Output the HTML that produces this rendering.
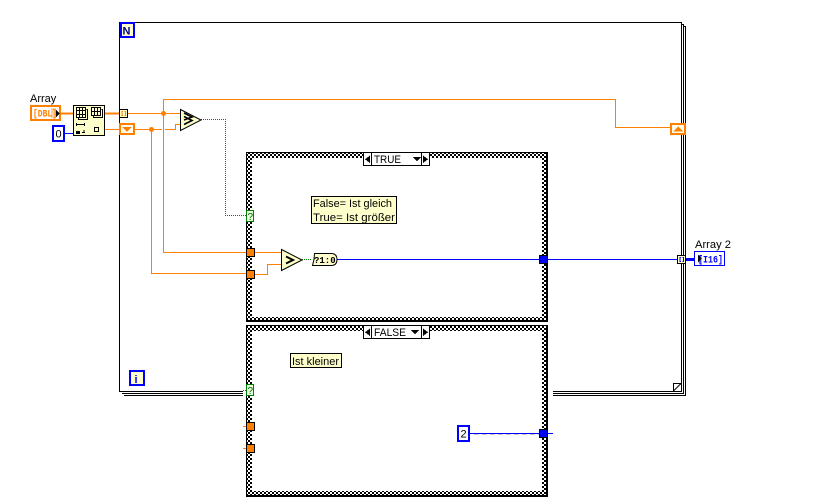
<!DOCTYPE html>
<html><head><meta charset="utf-8"><style>
html,body{margin:0;padding:0;background:#fff;width:817px;height:503px;overflow:hidden}
svg{display:block}
text{font-family:"Liberation Sans",sans-serif;font-size:11px;fill:#000}
.m{font-family:"Liberation Mono",monospace;font-weight:bold}
</style></head><body>
<svg width="817" height="503" viewBox="0 0 817 503" xmlns="http://www.w3.org/2000/svg" shape-rendering="crispEdges">
<defs>
<pattern id="c" width="4" height="4" patternUnits="userSpaceOnUse">
<rect width="4" height="4" fill="#fff"/><rect width="2" height="2" fill="#000"/><rect x="2" y="2" width="2" height="2" fill="#000"/>
</pattern>
</defs>
<!-- loop frames -->
<path d="M122 393.5H683.5V24.5H681" fill="none" stroke="#000"/>
<path d="M124 395.5H685.5V26.5H683" fill="none" stroke="#000"/>
<rect x="119.5" y="22.5" width="562" height="369" fill="#fff" stroke="#000"/>
<path d="M673.5 391V383.5H681M673.5 391L681 383.5" fill="#fff" stroke="#000" shape-rendering="auto"/>
<!-- white halo -->
<rect x="243" y="386" width="310" height="12" fill="#fff"/>
<!-- N / i -->
<rect x="121" y="23" width="13" height="14" fill="#ffffcc" stroke="#00f" stroke-width="2"/>
<text x="122.5" y="34.5" style="font-weight:bold;fill:#00008c">N</text>
<rect x="130" y="371" width="14" height="14" fill="#ffffcc" stroke="#00f" stroke-width="2"/>
<text x="134.5" y="383" style="font-weight:bold;fill:#00f">i</text>
<!-- case 1 -->
<rect x="246" y="152" width="302" height="170" fill="#000"/>
<rect x="247" y="153" width="299" height="167" fill="url(#c)"/>
<rect x="252" y="158" width="290" height="159" fill="#fff"/>
<!-- case 2 -->
<rect x="246" y="325" width="302" height="172" fill="#000"/>
<rect x="247" y="326" width="299" height="169" fill="url(#c)"/>
<rect x="252" y="331" width="290" height="160" fill="#fff"/>
<!-- orange wires -->
<g fill="none" stroke="#ff8000">
<path d="M128 113.5H180"/>
<path d="M135 129.5H162M165 129.5H175.5V124.5H180"/>
<path d="M615.5 127.5H670"/>
<path d="M163.5 113V99.5H615.5V128"/>
<path d="M163.5 113V252.5H246"/>
<path d="M151.5 129V273.5H246"/>
<path d="M255 252.5H281"/>
<path d="M255 274.5H267.5V264.5H281"/>
<path d="M243 426.5H246M243 448.5H246"/>
<path d="M61 113.5H73M105 113.5H119" stroke-width="2"/>
<path d="M105 129.5H119"/>
</g>
<circle cx="163.5" cy="113.5" r="2.5" fill="#ff8000" shape-rendering="auto"/>
<circle cx="151.5" cy="129.5" r="2.5" fill="#ff8000" shape-rendering="auto"/>
<!-- selector TRUE -->
<rect x="363.5" y="152.5" width="66" height="13" fill="#fff" stroke="#000"/>
<path d="M371.5 152V166M421.5 152V166" stroke="#000"/>
<path d="M370 155.5V163L365 159.2Z M423 155.5V163L428 159.2Z M413 157H421L417 161.5Z" fill="#000"/>
<text x="374" y="163" textLength="27" lengthAdjust="spacingAndGlyphs">TRUE</text>
<!-- selector FALSE -->
<rect x="363.5" y="325.5" width="66" height="13" fill="#fff" stroke="#000"/>
<path d="M371.5 325V339M421.5 325V339" stroke="#000"/>
<path d="M370 328.5V336L365 332.2Z M423 328.5V336L428 332.2Z M411 330H419L415 334.5Z" fill="#000"/>
<text x="374" y="336" textLength="32" lengthAdjust="spacingAndGlyphs">FALSE</text>
<!-- comments -->
<rect x="311.5" y="196.5" width="85" height="27" fill="#ffffcc" stroke="#000"/>
<text x="313" y="207" textLength="79" lengthAdjust="spacingAndGlyphs">False= Ist gleich</text>
<text x="313" y="221" textLength="82" lengthAdjust="spacingAndGlyphs">True= Ist größer</text>
<rect x="290.5" y="353.5" width="51" height="14" fill="#ffffcc" stroke="#000"/>
<text x="292" y="365" textLength="47" lengthAdjust="spacingAndGlyphs">Ist kleiner</text>
<!-- dotted boolean wires -->
<path d="M201 119.5H225.5V215.5H246" fill="none" stroke="#008000" stroke-dasharray="1 1"/>
<path d="M302 259.5H312" fill="none" stroke="#008000" stroke-dasharray="1 1"/>
<path d="M243 390.5H246" fill="none" stroke="#008000" stroke-dasharray="1 1"/>
<!-- ? terminals -->
<rect x="246.5" y="210.5" width="7" height="11" fill="#e8ffe0" stroke="#008000"/>
<text x="247.5" y="220" style="fill:#006000;font-size:10px">?</text>
<rect x="246.5" y="384.5" width="7" height="11" fill="#e8ffe0" stroke="#008000"/>
<text x="247.5" y="394" style="fill:#006000;font-size:10px">?</text>
<!-- orange tunnels -->
<g fill="#ff8000" stroke="#000">
<rect x="246.5" y="248.5" width="8" height="8"/>
<rect x="246.5" y="270.5" width="8" height="8"/>
<rect x="246.5" y="422.5" width="8" height="8"/>
<rect x="246.5" y="444.5" width="8" height="8"/>
</g>
<!-- blue wires -->
<path d="M337 259.5H677" stroke="#00f" fill="none"/>
<path d="M470 433.5H553" stroke="#00f" fill="none"/>
<path d="M474 434.5H539" stroke="#c8c8c8" fill="none" stroke-dasharray="5 3"/>
<path d="M686 259.5H694" stroke="#00f" stroke-width="3" fill="none"/>
<rect x="539.5" y="255.5" width="8" height="8" fill="#00f" stroke="#000"/>
<rect x="539.5" y="429.5" width="8" height="8" fill="#00f" stroke="#000"/>
<!-- comparison nodes -->
<path d="M180.5 109.5V130.5L201 120Z" fill="#ffffcc" stroke="#000" shape-rendering="auto"/>
<path d="M184 113L192 117L184 120M184 116.5L192 120.5L184 124.5" fill="none" stroke="#000" stroke-width="1.6" shape-rendering="auto"/>
<path d="M281.5 249.5V270.5L302 260Z" fill="#ffffcc" stroke="#000" shape-rendering="auto"/>
<path d="M286 256.5L293 260L286 263.5" fill="none" stroke="#000" stroke-width="2" shape-rendering="auto"/>
<!-- bool to int -->
<path d="M314.5 253.5H332Q337 254 337 259.5Q337 265 332 265.5H312.5L314 259.5Z" fill="#ffffcc" stroke="#000" shape-rendering="auto"/>
<text x="314" y="263" class="m" style="font-size:9px">?1:0</text>
<!-- Array control -->
<text x="30" y="102">Array</text>
<rect x="31" y="106" width="29" height="14" fill="#fff" stroke="#ff8000" stroke-width="2"/>
<rect x="51" y="108" width="5" height="10" fill="#ffd0a0"/>
<text x="33" y="116.5" class="m" style="font-size:10px;fill:#ff8000" textLength="24" lengthAdjust="spacingAndGlyphs">[DBL]</text>
<path d="M56 110V117L60 113.5Z" fill="#000"/>
<!-- const 0 -->
<path d="M65 133.5H73" stroke="#00f" fill="none"/>
<rect x="53" y="126" width="11" height="15" fill="#fff" stroke="#00f" stroke-width="2"/>
<text x="55.5" y="137.5">0</text>
<!-- array subset node -->
<rect x="73.5" y="105.5" width="31" height="30" fill="#ffffcc" stroke="#000"/>
<g fill="none" stroke="#000">
<path d="M76.5 107.5H85.5V117.5H76.5ZM79.5 107.5V117.5M82.5 107.5V117.5M76.5 110.5H85.5M76.5 114.5H85.5"/>
<path d="M86.5 109.5H87.5V119.5H78.5V118"/>
<path d="M91.5 107.5H100.5V115.5H91.5ZM94.5 107.5V115.5M97.5 107.5V115.5M91.5 111.5H100.5"/>
<path d="M101.5 109.5H102.5V117.5H93.5V116"/>
<rect x="94.5" y="127.5" width="4" height="4"/>
<path d="M76.5 124.5H84.5M76.5 123V126M84.5 123V126"/>
</g>
<rect x="76" y="131" width="4" height="3" fill="#000"/>
<path d="M82 132.5H85M84 130V133" stroke="#000" fill="none"/>
<!-- tunnel in -->
<rect x="119.5" y="109.5" width="8" height="8" fill="#ffffcc" stroke="#000"/>
<path d="M123 111.5H122V115.5H123M124.5 111.5H125.5V115.5H124.5" fill="none" stroke="#ff8000"/>
<!-- shift registers -->
<rect x="120" y="124" width="14" height="10" fill="#fffbe8" stroke="#ff8000" stroke-width="2"/>
<path d="M122 127H132L127 131.5Z" fill="#ff8000"/>
<rect x="671" y="124" width="14" height="10" fill="#fffbe8" stroke="#ff8000" stroke-width="2"/>
<path d="M673 131.5H683L678 126.5Z" fill="#ff8000"/>
<!-- tunnel out -->
<rect x="677.5" y="255.5" width="8" height="8" fill="#ffffcc" stroke="#000"/>
<path d="M681 257.5H680V261.5H681M682.5 257.5H683.5V261.5H682.5" fill="none" stroke="#00f"/>
<!-- indicator -->
<text x="695" y="248" textLength="36" lengthAdjust="spacingAndGlyphs">Array 2</text>
<rect x="694.5" y="251.5" width="30" height="14" fill="#fff" stroke="#00f"/>
<rect x="698" y="255" width="4" height="8" fill="#b0b0ff"/>
<text x="698" y="262.5" class="m" style="font-size:10px;fill:#00f" textLength="25" lengthAdjust="spacingAndGlyphs">[I16]</text>
<path d="M698 255V262L702 258.5Z" fill="#000"/>
<!-- const 2 -->
<rect x="458" y="426" width="11" height="15" fill="#fff" stroke="#00f" stroke-width="2"/>
<text x="460.5" y="437.5">2</text>
</svg>
</body></html>
